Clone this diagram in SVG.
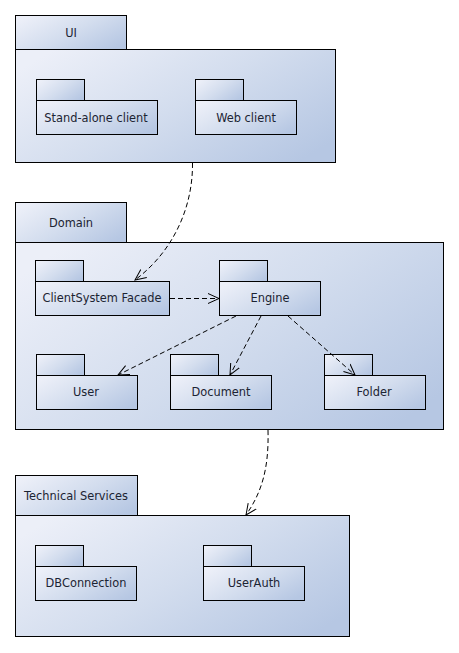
<svg xmlns="http://www.w3.org/2000/svg" width="459" height="653" viewBox="0 0 459 653">
<style>
.box{stroke:#000;stroke-width:1;fill:url(#g)}
.lbl{font-family:"DejaVu Sans",sans-serif;font-size:11.4px;fill:#1c2433;text-anchor:middle}
.dep{fill:none;stroke:#000;stroke-width:1;stroke-dasharray:5,3}
</style>
<defs>
<linearGradient id="g" x1="0" y1="0.2" x2="1" y2="0.8">
<stop offset="0" stop-color="#eceff8"/>
<stop offset="0.5" stop-color="#d3ddee"/>
<stop offset="1" stop-color="#b6c7e3"/>
</linearGradient>
<marker id="arr" markerUnits="userSpaceOnUse" markerWidth="12" markerHeight="12" refX="11" refY="5" orient="auto" viewBox="0 0 12 10">
<path d="M0,0 L11,5 L0,10" fill="none" stroke="#000" stroke-width="1"/>
</marker>
</defs>
<rect width="459" height="653" fill="#fff"/>

<g id="UI">
<rect class="box" x="15.5" y="15.5" width="111" height="34"/>
<rect class="box" x="15.5" y="49.5" width="320" height="113"/>
<text class="lbl" x="71" y="37">UI</text>
</g>
<g id="StandAloneClient">
<rect class="box" x="36.5" y="79.5" width="48" height="21"/>
<rect class="box" x="36.5" y="100.5" width="121" height="34"/>
<text class="lbl" x="96" y="121.5">Stand-alone client</text>
</g>
<g id="WebClient">
<rect class="box" x="195.5" y="79.5" width="48" height="21"/>
<rect class="box" x="195.5" y="100.5" width="101" height="34"/>
<text class="lbl" x="246" y="121.5">Web client</text>
</g>

<g id="Domain">
<rect class="box" x="15.5" y="202.5" width="111" height="40"/>
<rect class="box" x="15.5" y="242.5" width="428" height="187"/>
<text class="lbl" x="71" y="227">Domain</text>
</g>
<g id="ClientSystemFacade">
<rect class="box" x="35.5" y="260.5" width="48" height="21"/>
<rect class="box" x="35.5" y="281.5" width="134" height="34"/>
<text class="lbl" x="102" y="302">ClientSystem Facade</text>
</g>
<g id="Engine">
<rect class="box" x="219.5" y="260.5" width="48" height="21"/>
<rect class="box" x="219.5" y="281.5" width="101" height="34"/>
<text class="lbl" x="270" y="302">Engine</text>
</g>
<g id="User">
<rect class="box" x="36.5" y="354.5" width="48" height="21"/>
<rect class="box" x="36.5" y="375.5" width="101" height="34"/>
<text class="lbl" x="86" y="396">User</text>
</g>
<g id="Document">
<rect class="box" x="170.5" y="354.5" width="48" height="21"/>
<rect class="box" x="170.5" y="375.5" width="101" height="34"/>
<text class="lbl" x="221" y="396">Document</text>
</g>
<g id="Folder">
<rect class="box" x="324.5" y="354.5" width="48" height="21"/>
<rect class="box" x="324.5" y="375.5" width="101" height="34"/>
<text class="lbl" x="374" y="396">Folder</text>
</g>

<g id="TechnicalServices">
<rect class="box" x="15.5" y="475.5" width="122" height="40"/>
<rect class="box" x="15.5" y="515.5" width="334" height="121"/>
<text class="lbl" x="76" y="500">Technical Services</text>
</g>
<g id="DBConnection">
<rect class="box" x="35.5" y="545.5" width="48" height="21"/>
<rect class="box" x="35.5" y="566.5" width="101" height="34"/>
<text class="lbl" x="86" y="587">DBConnection</text>
</g>
<g id="UserAuth">
<rect class="box" x="203.5" y="545.5" width="48" height="21"/>
<rect class="box" x="203.5" y="566.5" width="101" height="34"/>
<text class="lbl" x="254" y="587">UserAuth</text>
</g>

<g id="connectors">
<path class="dep" d="M192.5,163 C193,205 175,250 135,280" marker-end="url(#arr)"/>
<path class="dep" d="M170,298.5 L219,298.5" marker-end="url(#arr)"/>
<path class="dep" d="M236,316 L118,375" marker-end="url(#arr)"/>
<path class="dep" d="M261,316 L230,375" marker-end="url(#arr)"/>
<path class="dep" d="M288,316 L355,375" marker-end="url(#arr)"/>
<path class="dep" d="M268,430 C269,468 262,492 246,515" marker-end="url(#arr)"/>
</g>
</svg>
